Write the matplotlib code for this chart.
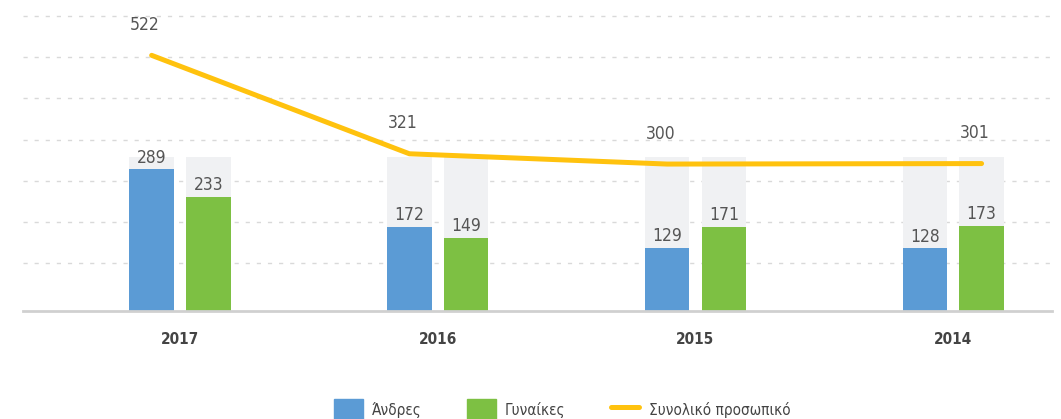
import numpy as np
import matplotlib
matplotlib.use('Agg')
import matplotlib.pyplot as plt
from matplotlib.patches import Patch
from matplotlib.lines import Line2D

plt.rcParams['font.family'] = ['DejaVu Sans']
plt.rcParams['font.stretch'] = 'condensed'

years = ['2017', '2016', '2015', '2014']
men = [289, 172, 129, 128]
women = [233, 149, 171, 173]
total = [522, 321, 300, 301]
track = [314, 314, 314, 314]          # light grey background bars
line_pos = [-0.11, -0.11, -0.11, 0.11]  # where the total line sits in each group

blue = '#5B9BD5'
green = '#7DC043'
yellow = '#FFC20E'
txt = '#555555'

fig = plt.figure(figsize=(10.61, 4.19), dpi=100)
ax = fig.add_axes([0.0217, 0.2578, 0.97, 0.7422])

x = np.arange(len(years))
w = 0.172
off = 0.11

ax.bar(x - off, track, w, color='#F0F1F3', zorder=1)
ax.bar(x + off, track, w, color='#F0F1F3', zorder=1)
ax.bar(x - off, men, w, color=blue, zorder=2)
ax.bar(x + off, women, w, color=green, zorder=2)

for i in range(len(years)):
    ax.annotate(str(men[i]), (x[i] - off, men[i]), xytext=(0, 2), textcoords='offset points',
                ha='center', va='bottom', fontsize=12.5, color=txt)
    ax.annotate(str(women[i]), (x[i] + off, women[i]), xytext=(0, 2), textcoords='offset points',
                ha='center', va='bottom', fontsize=12.5, color=txt)

lx = x + np.array(line_pos)
ax.plot(lx, total, color=yellow, lw=3.6, solid_capstyle='round', zorder=3)
for i in range(len(years)):
    ax.annotate(str(total[i]), (lx[i], total[i]), xytext=(-5, 22), textcoords='offset points',
                ha='center', va='center', fontsize=12.5, color=txt)

# dotted grid
for g in np.arange(98, 620, 84):
    ax.axhline(g, color='#d9d9d9', lw=1, ls=(0, (3, 5)), zorder=0)

ax.set_ylim(0, 635)
ax.set_xlim(-0.609, 3.384)
ax.set_yticks([])
ax.set_xticks(x)
ax.set_xticklabels(years, fontsize=11, color='#444444', fontweight='bold')
ax.tick_params(axis='x', length=0, pad=15)
for s in ['top', 'right', 'left']:
    ax.spines[s].set_visible(False)
ax.spines['bottom'].set_color('#d0d0d0')
ax.spines['bottom'].set_linewidth(2)

handles = [Patch(color=blue), Patch(color=green), Line2D([], [], color=yellow, lw=3.6, solid_capstyle='round')]
fig.legend(handles, ['Άνδρες', 'Γυναίκες', 'Συνολικό προσωπικό'], loc='center',
           bbox_to_anchor=(0.53, 0.022), ncol=3, frameon=False, fontsize=11,
           handlelength=1.85, handleheight=1.85, columnspacing=3.0, handletextpad=0.6,
           labelcolor='#444444')

fig.savefig('out.png', dpi=100)
